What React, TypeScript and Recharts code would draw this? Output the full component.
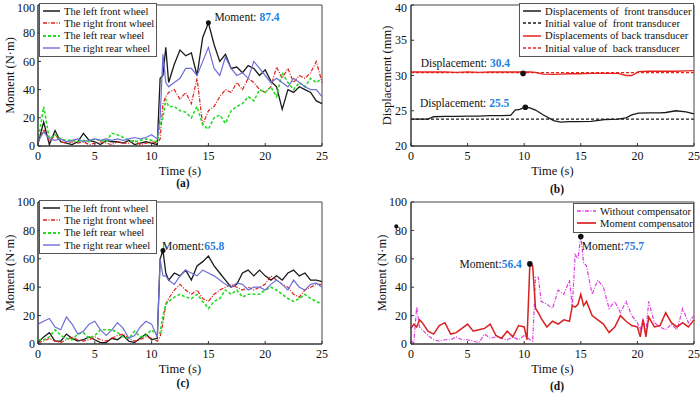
import {
  Label,
  Line,
  LineChart,
  ReferenceArea,
  ReferenceDot,
  ReferenceLine,
  XAxis,
  YAxis,
} from "recharts";

const FONT = '"Liberation Serif", "Times New Roman", serif';

// shared tick labels
const timeTicks = [0, 5, 10, 15, 20, 25];
const momentTicks = [0, 20, 40, 60, 80, 100];
const dispTicks = [20, 25, 30, 35, 40];

// (a) and (c): time base in s
const timeAC = [
  0, 0.5, 1, 1.5, 2, 2.5, 3, 3.5, 4, 4.5, 5, 5.5, 6, 6.5, 7, 7.5, 8, 8.5, 9, 9.5, 10, 10.5,
  10.75, 11, 11.25, 11.5, 12, 12.5, 13, 13.5, 14, 14.5, 15, 15.5, 16, 16.5, 17, 17.5, 18,
  18.5, 19, 19.5, 20, 20.5, 21, 21.5, 22, 22.5, 23, 23.5, 24, 24.5, 25,
];

// (a) moment, N·m
const aLeftFront = [
  2, 17, 1, 11, 3, 2, 1, 3, 9, 4, 3, 1, 4, 3, 3, 2, 4, 1, 2, 3, 2, 1,
  48, 50, 70,
  45, 58, 68, 64, 66, 50, 77, 87.4, 72, 60, 65, 55, 56, 52, 57, 55, 50, 54, 46, 42, 26, 40, 38,
  42, 40, 38, 32, 30,
];
const aRightFront = [
  2, 12, 3, 8, 3, 2, 3, 2, 3, 1, 2, 3, 2, 1, 3, 2, 2, 4, 1, 2, 3, 2,
  5, 30, 35,
  38, 40, 33, 38, 30, 48, 15, 25, 28, 35, 40, 38, 45, 40, 48, 45, 40, 38, 42, 56, 48, 55, 45,
  50, 48, 52, 60, 45,
];
const aLeftRear = [
  3, 28, 5, 8, 5, 4, 4, 3, 4, 3, 5, 4, 3, 9, 8, 6, 4, 3, 4, 5, 4, 3,
  15, 20, 33,
  28, 28, 25, 24, 20, 28, 15, 12, 20, 22, 16, 25, 28, 30, 35, 32, 40, 38, 42, 35, 52, 45, 40,
  45, 42, 48, 45, 48,
];
const aRightRear = [
  3, 10, 5, 4, 5, 3, 4, 5, 3, 4, 5, 4, 5, 4, 5, 4, 5, 6, 5, 6, 8, 5,
  20, 65, 45,
  42, 45, 48, 55, 55, 50, 60, 70, 55, 50, 63, 55, 50, 52, 48, 60, 55, 50, 45, 48, 45, 42, 48,
  45, 42, 40, 40, 35,
];

// (c) moment, N·m
const cLeftFront = [
  1, 5, 8, 2, 2, 7, 4, 2, 3, 5, 3, 1, 1, 4, 3, 6, 2, 1, 4, 7, 3, 4,
  60, 65.8, 50,
  45, 50, 48, 52, 45, 55, 58, 62, 55, 50, 45, 40, 42, 50, 52, 48, 52, 48, 45, 48, 45, 50, 52,
  48, 50, 45, 45, 44,
];
const cRightFront = [
  1, 2, 4, 2, 1, 3, 5, 3, 2, 3, 5, 3, 2, 4, 6, 7, 4, 2, 3, 5, 4, 2,
  5, 15, 28,
  32, 38, 42, 38, 35, 38, 32, 30, 35, 38, 40, 42, 40, 38, 40, 38, 40, 42, 48, 45, 42, 40, 35,
  33, 38, 40, 42, 42,
];
const cLeftRear = [
  3, 3, 5, 10, 6, 4, 3, 7, 8, 4, 6, 10, 10, 10, 8, 5, 4, 9, 5, 6, 10, 6,
  8, 20, 28,
  30, 33, 35, 33, 32, 35, 30, 25, 30, 32, 38, 35, 38, 33, 35, 35, 35, 38, 40, 38, 35, 32, 30,
  32, 35, 32, 30, 28,
];
const cRightRear = [
  14, 16, 18, 12, 10, 19, 14, 7, 9, 14, 16, 10, 6, 10, 15, 11, 4, 6, 12, 16, 14, 5,
  60, 48, 48,
  45, 42, 48, 52, 50, 48, 52, 50, 48, 45, 42, 40, 43, 42, 38, 40, 40, 38, 42, 45, 42, 38, 45,
  40, 38, 42, 43, 40,
];

// (b) displacement, mm
const timeB = [
  0, 1.5, 2, 3, 4, 5, 6, 7, 8, 8.8, 9.2, 9.6, 10.1, 10.5, 11, 11.7, 12.6, 13.2, 14, 14.7, 15.9,
  17.1, 18.3, 19, 19.5, 20.1, 21, 22, 22.5, 23.4, 24.3, 25,
];
const frontDisp = [
  23.8, 23.8, 24.15, 24.2, 24.2, 24.25, 24.25, 24.3, 24.3, 24.35, 25.1, 25.2, 25.5, 25.4, 25.1,
  24.4, 23.6, 23.4, 23.45, 23.45, 23.5, 23.75, 23.8, 24.0, 24.4, 24.65, 24.7, 24.7, 24.75, 25.0,
  24.85, 24.55,
];
const backDisp = [
  30.5, 30.5, 30.5, 30.5, 30.45, 30.5, 30.45, 30.5, 30.5, 30.5, 30.5, 30.5, 30.5, 30.5, 30.45,
  30.2, 30.15, 30.2, 30.25, 30.25, 30.3, 30.3, 30.3, 30.0, 30.0, 30.55, 30.6, 30.6, 30.6, 30.6,
  30.65, 30.7,
];
const frontInitial = 23.8;
const backInitial = 30.4;

// (d) moment, N·m
const timeD = [
  0, 0.25, 0.5, 0.75, 1, 1.5, 2, 2.5, 3, 3.5, 4, 4.5, 5, 5.5, 6, 6.5, 7, 7.5, 8, 8.5, 9, 9.5, 10,
  10.25, 10.5, 10.75, 11, 11.25, 11.5, 12, 12.5, 13, 13.5, 14, 14.25, 14.5, 14.75, 15, 15.25,
  15.5, 16, 16.5, 17, 17.5, 18, 18.5, 19, 19.5, 20, 20.25, 20.5, 20.75, 21, 21.5, 22, 22.5, 23,
  23.5, 24, 24.5, 25,
];
const withoutComp = [
  2, 1, 26, 12, 10, 6, 3, 2, 3, 3, 5, 3, 3, 2, 1, 7, 4, 5, 4, 3, 5, 3, 6,
  5, 3, 2, 47, 47, 30,
  28, 25, 38, 35, 45,
  26, 63, 60, 75.7, 57, 55,
  35, 45, 40, 25, 30, 22, 30, 20, 15,
  10, 18, 8, 30,
  15, 12, 10, 14, 10, 25, 15, 20,
];
const withComp = [
  11, 14, 12, 17, 15, 9, 7, 13, 15, 7, 8, 11, 14, 9, 10, 11, 14, 6, 4, 9, 5, 13, 12,
  3, 56.4, 55, 25, 22, 18,
  12, 16, 14, 17, 16,
  27, 26, 28, 35, 27, 30,
  20, 17, 14, 8, 12, 20, 16, 13, 12,
  5, 17, 5, 19,
  12, 13, 22, 15, 12, 15, 12, 17,
];

const dataA = timeAC.map((t, i) => ({ t, lf: aLeftFront[i], rf: aRightFront[i], lr: aLeftRear[i], rr: aRightRear[i] }));
const dataC = timeAC.map((t, i) => ({ t, lf: cLeftFront[i], rf: cRightFront[i], lr: cLeftRear[i], rr: cRightRear[i] }));
const dataB = timeB.map((t, i) => ({ t, front: frontDisp[i], back: backDisp[i] }));
const dataD = timeD.map((t, i) => ({ t, without: withoutComp[i], comp: withComp[i] }));

const tickStyle = { fontFamily: FONT, fontSize: 12, fill: "#111" };
const titleStyle = { fontFamily: FONT, fontSize: 12.5, fill: "#111" };
const yTitleStyle = { ...titleStyle, textAnchor: "middle" as const };

const wheelLines = [
  { key: "lf", name: "The left front wheel", color: "#1a1a1a", width: 1.3, dash: undefined },
  { key: "rf", name: "The right front wheel", color: "#e0201c", width: 1.2, dash: "4 1.5 1 1.5" },
  { key: "lr", name: "The left rear wheel", color: "#22dd22", width: 1.6, dash: "3 2" },
  { key: "rr", name: "The right rear wheel", color: "#6f6fd8", width: 1.2, dash: undefined },
];

const dispLegend = [
  { name: "Displacements of  front transducer", color: "#1a1a1a", width: 1.3, dash: undefined },
  { name: "Initial value of  front transducer", color: "#1a1a1a", width: 1.2, dash: "3 2" },
  { name: "Displacements of back transducer", color: "#e8231c", width: 1.3, dash: undefined },
  { name: "Initial value of  back transducer", color: "#e8231c", width: 1.2, dash: "3 2" },
];

const compLegend = [
  { name: "Without compensator", color: "#e03de0", width: 1.2, dash: "4 1.5 1 1.5" },
  { name: "Moment compensator", color: "#d82020", width: 1.5, dash: undefined },
];

interface LegendEntry {
  name: string;
  color: string;
  width: number;
  dash?: string;
}

function LegendBox(props: { left: number; top: number; width: number; sample: number; entries: LegendEntry[] }) {
  return (
    <div
      style={{
        position: "absolute",
        left: props.left,
        top: props.top,
        width: props.width,
        border: "1px solid #555",
        background: "#fff",
        padding: "1px 0 2px 2px",
        boxSizing: "border-box",
        fontFamily: FONT,
        fontSize: 10.6,
        color: "#111",
        overflow: "hidden",
      }}
    >
      {props.entries.map((e) => (
        <div key={e.name} style={{ height: 12.3, display: "flex", alignItems: "center", whiteSpace: "pre" }}>
          <svg width={props.sample} height={6} style={{ marginRight: 3, flex: "none" }}>
            <line x1={1} y1={3} x2={props.sample - 1} y2={3} stroke={e.color} strokeWidth={e.width + 0.2} strokeDasharray={e.dash} />
          </svg>
          <span>{e.name}</span>
        </div>
      ))}
    </div>
  );
}

// y tick that keeps the topmost label inside the picture
function YTick(props: any) {
  const { x, y, payload } = props;
  return (
    <text x={x} y={Math.max(y, 7.5)} dy="0.35em" textAnchor="end" fontFamily={FONT} fontSize={12} fill="#111">
      {payload.value}
    </text>
  );
}

function ValueLabel(props: any) {
  const vb = props.viewBox;
  if (!vb) return null;
  const cx = vb.x + vb.width / 2;
  const cy = vb.y + vb.height / 2;
  return (
    <text x={cx + props.dx} y={cy + props.dy} textAnchor={props.anchor} fontFamily={FONT} fontSize={11.5} fill="#111">
      {props.prefix}
      <tspan fill="#1f7fe0" fontWeight="bold">{props.value}</tspan>
    </text>
  );
}

function Caption(props: { x: number; y: number; text: string }) {
  return (
    <div
      style={{
        position: "absolute",
        left: props.x - 20,
        top: props.y - 7,
        width: 40,
        textAlign: "center",
        fontFamily: FONT,
        fontSize: 11.5,
        fontWeight: "bold",
        color: "#111",
      }}
    >
      {props.text}
    </div>
  );
}

function timeAxis() {
  return (
    <XAxis
      type="number"
      dataKey="t"
      domain={[0, 25]}
      ticks={timeTicks}
      interval={0}
      height={20}
      tick={tickStyle}
      tickSize={-3}
      tickMargin={8}
      stroke="#333"
    >
      <Label value="Time (s)" position="bottom" offset={0} style={titleStyle} />
    </XAxis>
  );
}

export default function App() {
  return (
    <div style={{ position: "absolute", left: 0, top: 0, width: 700, height: 395, background: "#fff" }}>
      {/* (a) */}
      <div style={{ position: "absolute", left: 0, top: 0 }}>
        <LineChart width={350} height={197} data={dataA} margin={{ top: 5, right: 28, bottom: 31, left: 8 }}>
          {timeAxis()}
          <YAxis type="number" domain={[0, 100]} ticks={momentTicks} interval={0} width={30} tick={<YTick />} tickSize={-3} tickMargin={6} stroke="#333">
            <Label value="Moment (N·m)" angle={-90} position="insideLeft" offset={2} style={yTitleStyle} />
          </YAxis>
          <ReferenceArea x1={0} x2={25} y1={0} y2={100} fill="none" stroke="#444" />
          {wheelLines.map((s) => (
            <Line key={s.key} type="linear" dataKey={s.key} stroke={s.color} strokeWidth={s.width} strokeDasharray={s.dash} dot={false} isAnimationActive={false} />
          ))}
          <ReferenceDot x={15} y={87.4} r={2.5} fill="#111" stroke="none" label={<ValueLabel prefix="Moment: " value="87.4" dx={6} dy={-2} anchor="start" />} />
        </LineChart>
      </div>

      {/* (b) */}
      <div style={{ position: "absolute", left: 350, top: 0 }}>
        <LineChart width={350} height={197} data={dataB} margin={{ top: 5, right: 6, bottom: 31, left: 31 }}>
          {timeAxis()}
          <YAxis type="number" domain={[20, 40]} ticks={dispTicks} interval={0} width={30} tick={<YTick />} tickSize={-3} tickMargin={7} stroke="#333">
            <Label value="Displacement (mm)" angle={-90} position="insideLeft" offset={6} style={yTitleStyle} />
          </YAxis>
          <ReferenceArea x1={0} x2={25} y1={20} y2={40} fill="none" stroke="#444" />
          <ReferenceLine y={frontInitial} stroke="#1a1a1a" strokeWidth={1.2} strokeDasharray="3 2" />
          <ReferenceLine y={backInitial} stroke="#e8231c" strokeWidth={1.2} strokeDasharray="3 2" />
          <Line type="linear" dataKey="front" stroke="#1a1a1a" strokeWidth={1.3} dot={false} isAnimationActive={false} />
          <Line type="linear" dataKey="back" stroke="#e8231c" strokeWidth={1.3} dot={false} isAnimationActive={false} />
          <ReferenceDot x={9.9} y={30.3} r={2.8} fill="#111" stroke="none" label={<ValueLabel prefix="Displacement: " value="30.4" dx={-13} dy={-6} anchor="end" />} />
          <ReferenceDot x={10.1} y={25.5} r={2.8} fill="#111" stroke="none" label={<ValueLabel prefix="Displacement: " value="25.5" dx={-16} dy={0} anchor="end" />} />
        </LineChart>
      </div>

      {/* (c) */}
      <div style={{ position: "absolute", left: 0, top: 192 }}>
        <LineChart width={350} height={203} data={dataC} margin={{ top: 10, right: 28, bottom: 31, left: 8 }}>
          {timeAxis()}
          <YAxis type="number" domain={[0, 100]} ticks={momentTicks} interval={0} width={30} tick={<YTick />} tickSize={-3} tickMargin={6} stroke="#333">
            <Label value="Moment (N·m)" angle={-90} position="insideLeft" offset={2} style={yTitleStyle} />
          </YAxis>
          <ReferenceArea x1={0} x2={25} y1={0} y2={100} fill="none" stroke="#444" />
          {wheelLines.map((s) => (
            <Line key={s.key} type="linear" dataKey={s.key} stroke={s.color} strokeWidth={s.width} strokeDasharray={s.dash} dot={false} isAnimationActive={false} />
          ))}
          <ReferenceDot x={11} y={65.8} r={2.5} fill="#111" stroke="none" label={<ValueLabel prefix="Moment:" value="65.8" dx={-1} dy={-1} anchor="start" />} />
        </LineChart>
      </div>

      {/* (d) */}
      <div style={{ position: "absolute", left: 350, top: 192 }}>
        <LineChart width={350} height={203} data={dataD} margin={{ top: 10, right: 6, bottom: 31, left: 31 }}>
          {timeAxis()}
          <YAxis type="number" domain={[0, 100]} ticks={momentTicks} interval={0} width={30} tick={<YTick />} tickSize={-3} tickMargin={7} stroke="#333">
            <Label value="Moment (N·m)" angle={-90} position="insideLeft" offset={1} style={yTitleStyle} />
          </YAxis>
          <ReferenceArea x1={0} x2={25} y1={0} y2={100} fill="none" stroke="#444" />
          <Line type="linear" dataKey="without" stroke="#e03de0" strokeWidth={1.2} strokeDasharray="4 1.5 1 1.5" dot={false} isAnimationActive={false} />
          <Line type="linear" dataKey="comp" stroke="#d82020" strokeWidth={1.5} dot={false} isAnimationActive={false} />
          <ReferenceDot x={10.5} y={56.4} r={2.8} fill="#111" stroke="none" label={<ValueLabel prefix="Moment:" value="56.4" dx={-8} dy={4} anchor="end" />} />
          <ReferenceDot x={15} y={75.7} r={2.8} fill="#111" stroke="none" label={<ValueLabel prefix="Moment:" value="75.7" dx={1} dy={13} anchor="start" />} />
          <ReferenceDot x={-1.3} y={83} r={2} fill="#111" stroke="none" ifOverflow="visible" />
        </LineChart>
      </div>

      <LegendBox left={39} top={3} width={118} sample={19} entries={wheelLines} />
      <LegendBox left={519} top={3} width={175} sample={20} entries={dispLegend} />
      <LegendBox left={39} top={200} width={118} sample={19} entries={wheelLines} />
      <LegendBox left={573} top={203} width={121} sample={21} entries={compLegend} />

      <Caption x={183} y={184} text="(a)" />
      <Caption x={557} y={190} text="(b)" />
      <Caption x={183} y={384} text="(c)" />
      <Caption x={557} y={387} text="(d)" />
    </div>
  );
}
